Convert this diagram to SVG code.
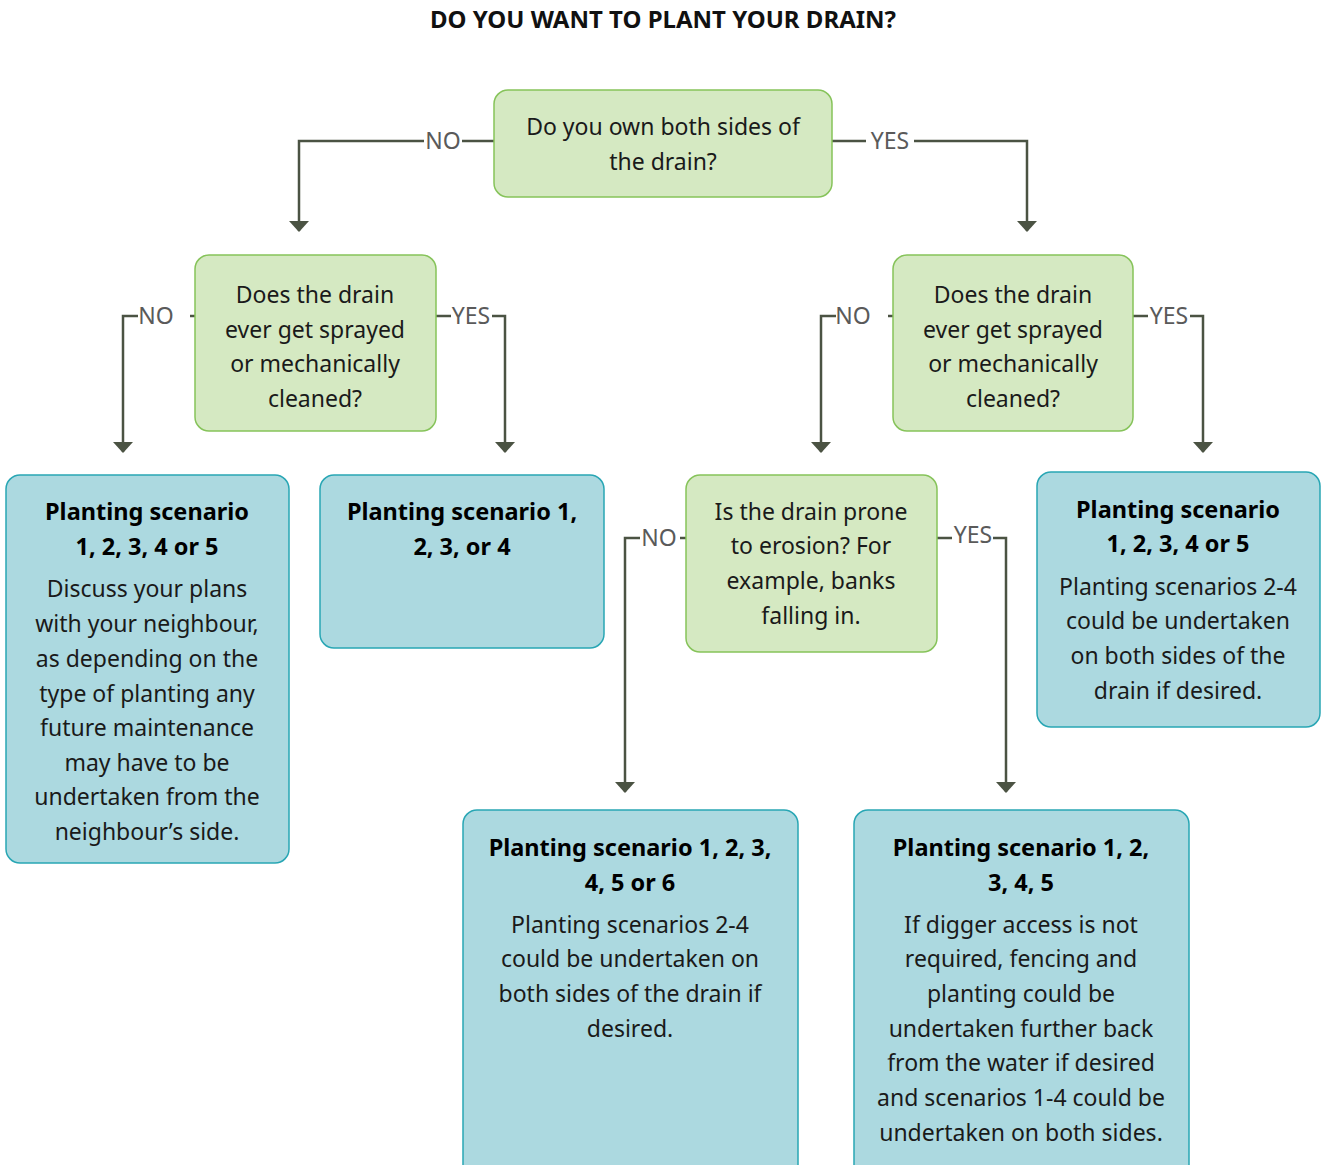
<svg xmlns="http://www.w3.org/2000/svg" width="1322" height="1165" viewBox="0 0 1322 1165">
<style>
.q{fill:#d5e9c2;stroke:#86c35a;stroke-width:1.5}
.a{fill:#acd9e0;stroke:#28a6b4;stroke-width:1.5}
text{font-family:"Noto Sans","Open Sans",sans-serif;fill:#1a1a1a;text-anchor:middle}
.t{font-size:23px}
.b{font-size:23.5px;font-weight:bold;fill:#000}
.l{font-size:23px;fill:#5a5a5a}
.c{fill:none;stroke:#4b5343;stroke-width:2.5}
</style>
<defs>
<marker id="ah" viewBox="0 0 11 20" refX="10" refY="10" markerWidth="11" markerHeight="20" markerUnits="userSpaceOnUse" orient="auto">
<path d="M0,0 L11,10 L0,20 z" fill="#4b5343"/>
</marker>
</defs>
<rect width="1322" height="1165" fill="#fff"/>
<text x="663" y="28" style="font-size:24px;font-weight:bold;fill:#111">DO YOU WANT TO PLANT YOUR DRAIN?</text>

<g id="connectors">
<path class="c" d="M494,141 H462 M424,141 H299 V231" marker-end="url(#ah)"/>
<path class="c" d="M832,141 H866 M914,141 H1027 V231" marker-end="url(#ah)"/>
<path class="c" d="M195,316 H190 M138,316 H123 V452" marker-end="url(#ah)"/>
<path class="c" d="M436,316 H451 M492,316 H505 V452" marker-end="url(#ah)"/>
<path class="c" d="M893,316 H888 M836,316 H821 V452" marker-end="url(#ah)"/>
<path class="c" d="M1133,316 H1148 M1190,316 H1203 V452" marker-end="url(#ah)"/>
<path class="c" d="M686,538 H680 M640,538 H625 V792" marker-end="url(#ah)"/>
<path class="c" d="M937,538 H952 M993,538 H1006 V792" marker-end="url(#ah)"/>
<text class="l" x="443" y="149">NO</text>
<text class="l" x="890" y="149">YES</text>
<text class="l" x="156" y="324">NO</text>
<text class="l" x="471" y="324">YES</text>
<text class="l" x="853" y="324">NO</text>
<text class="l" x="1169" y="324">YES</text>
<text class="l" x="659" y="546">NO</text>
<text class="l" x="973" y="543">YES</text>
</g>

<g id="q1">
<rect class="q" x="494" y="90" width="338" height="107" rx="14"/>
<text class="t" x="663" y="135">Do you own both sides of</text>
<text class="t" x="663" y="170">the drain?</text>
</g>

<g id="q2">
<rect class="q" x="195" y="255" width="241" height="176" rx="14"/>
<text class="t" x="315" y="303">Does the drain</text>
<text class="t" x="315" y="338">ever get sprayed</text>
<text class="t" x="315" y="372">or mechanically</text>
<text class="t" x="315" y="407">cleaned?</text>
</g>

<g id="q3">
<rect class="q" x="893" y="255" width="240" height="176" rx="14"/>
<text class="t" x="1013" y="303">Does the drain</text>
<text class="t" x="1013" y="338">ever get sprayed</text>
<text class="t" x="1013" y="372">or mechanically</text>
<text class="t" x="1013" y="407">cleaned?</text>
</g>

<g id="q4">
<rect class="q" x="686" y="475" width="251" height="177" rx="14"/>
<text class="t" x="811" y="520">Is the drain prone</text>
<text class="t" x="811" y="554">to erosion? For</text>
<text class="t" x="811" y="589">example, banks</text>
<text class="t" x="811" y="624">falling in.</text>
</g>

<g id="a1">
<rect class="a" x="6" y="475" width="283" height="388" rx="14"/>
<text class="b" x="147" y="520">Planting scenario</text>
<text class="b" x="147" y="555">1, 2, 3, 4 or 5</text>
<text class="t" x="147" y="597">Discuss your plans</text>
<text class="t" x="147" y="632">with your neighbour,</text>
<text class="t" x="147" y="667">as depending on the</text>
<text class="t" x="147" y="702">type of planting any</text>
<text class="t" x="147" y="736">future maintenance</text>
<text class="t" x="147" y="771">may have to be</text>
<text class="t" x="147" y="805">undertaken from the</text>
<text class="t" x="147" y="840">neighbour’s side.</text>
</g>

<g id="a2">
<rect class="a" x="320" y="475" width="284" height="173" rx="14"/>
<text class="b" x="462" y="520">Planting scenario 1,</text>
<text class="b" x="462" y="555">2, 3, or 4</text>
</g>

<g id="a3">
<rect class="a" x="1037" y="472" width="283" height="255" rx="14"/>
<text class="b" x="1178" y="518">Planting scenario</text>
<text class="b" x="1178" y="552">1, 2, 3, 4 or 5</text>
<text class="t" x="1178" y="595">Planting scenarios 2-4</text>
<text class="t" x="1178" y="629">could be undertaken</text>
<text class="t" x="1178" y="664">on both sides of the</text>
<text class="t" x="1178" y="699">drain if desired.</text>
</g>

<g id="a4">
<rect class="a" x="463" y="810" width="335" height="370" rx="14"/>
<text class="b" x="630" y="856">Planting scenario 1, 2, 3,</text>
<text class="b" x="630" y="891">4, 5 or 6</text>
<text class="t" x="630" y="933">Planting scenarios 2-4</text>
<text class="t" x="630" y="967">could be undertaken on</text>
<text class="t" x="630" y="1002">both sides of the drain if</text>
<text class="t" x="630" y="1037">desired.</text>
</g>

<g id="a5">
<rect class="a" x="854" y="810" width="335" height="370" rx="14"/>
<text class="b" x="1021" y="856">Planting scenario 1, 2,</text>
<text class="b" x="1021" y="891">3, 4, 5</text>
<text class="t" x="1021" y="933">If digger access is not</text>
<text class="t" x="1021" y="967">required, fencing and</text>
<text class="t" x="1021" y="1002">planting could be</text>
<text class="t" x="1021" y="1037">undertaken further back</text>
<text class="t" x="1021" y="1071">from the water if desired</text>
<text class="t" x="1021" y="1106">and scenarios 1-4 could be</text>
<text class="t" x="1021" y="1141">undertaken on both sides.</text>
</g>
</svg>
